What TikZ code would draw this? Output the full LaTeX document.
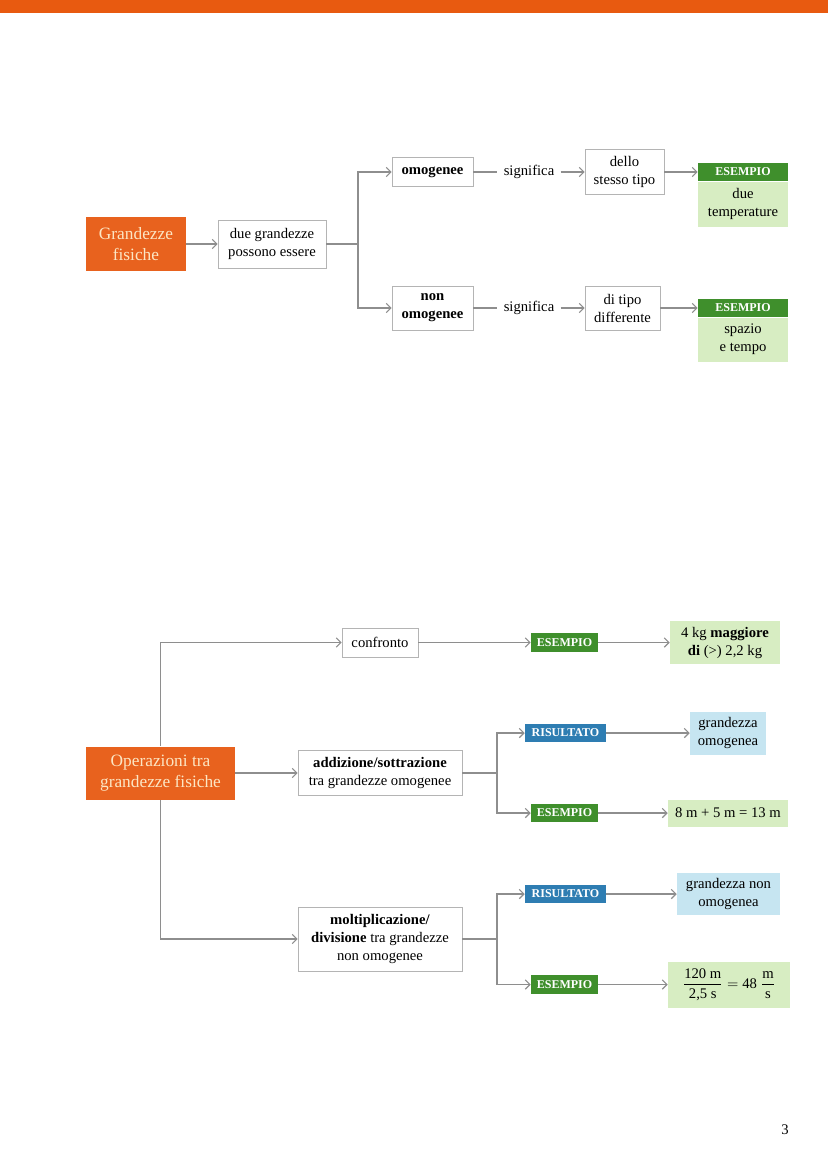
\documentclass[tikz,border=0pt]{standalone}
\usepackage{amsmath}
\usepackage{fontspec}
\setmainfont{Liberation Serif}
\usetikzlibrary{arrows.meta}
\newcommand{\pxl}[1]{#1*0.75pt}
\definecolor{orangebar}{HTML}{E85A10}
\definecolor{orangebox}{HTML}{E8621E}
\definecolor{cream}{HTML}{FCE6C4}
\definecolor{dgreen}{HTML}{3F8F2C}
\definecolor{lgreen}{HTML}{D7EDC2}
\definecolor{dblue}{HTML}{2E7DB2}
\definecolor{lblue}{HTML}{C6E5F1}
\definecolor{conn}{HTML}{8E8E8E}
\definecolor{bord}{HTML}{B4B4B4}
\tikzset{
  base/.style={align=center, inner sep=0pt, font=\fontsize{11}{13.5}\selectfont},
  wbox/.style={base, draw=bord, line width=0.6pt, fill=white},
  obox/.style={base, fill=orangebox, text=cream, font=\fontsize{13}{15.5}\selectfont},
  ghead/.style={base, fill=dgreen, text=white, font=\bfseries\fontsize{9}{10}\selectfont},
  bhead/.style={base, fill=dblue, text=white, font=\bfseries\fontsize{9}{10}\selectfont},
  gbody/.style={base, fill=lgreen},
  bbody/.style={base, fill=lblue},
  conntext/.style={base, inner xsep=\pxl{6}},
  cline/.style={draw=conn, line width=0.8pt},
  arr/.style={cline, -{Straight Barb[length=3.5pt,width=7pt]}},
}
\begin{document}
\begin{tikzpicture}[x=0.75pt,y=-0.75pt]
\useasboundingbox (0,0) rectangle (828,1173);
\fill[orangebar] (0,0) rectangle (828,13);

% ---------- diagram 1 ----------
\node[obox, minimum width=\pxl{100}, minimum height=\pxl{53}] (gf) at (136,244) {Grandezze\\fisiche};
\node[wbox, minimum width=\pxl{108}, minimum height=\pxl{48}] (due) at (272,244) {due grandezze\\possono essere};
\node[wbox, minimum width=\pxl{81}, minimum height=\pxl{29}] (omo) at (432.5,172) {\bfseries omogenee};
\node[wbox, minimum width=\pxl{81}, minimum height=\pxl{44}] (non) at (432.5,308) {\bfseries non\\\bfseries omogenee};
\node[conntext] (sig1) at (529,172) {significa};
\node[conntext] (sig2) at (529,308) {significa};
\node[wbox, minimum width=\pxl{79}, minimum height=\pxl{45}] (dello) at (624.5,172) {dello\\stesso tipo};
\node[wbox, minimum width=\pxl{75}, minimum height=\pxl{44}] (dit) at (622.5,308) {di tipo\\differente};
\node[ghead, minimum width=\pxl{90}, minimum height=\pxl{18}] (es1h) at (743,172) {ESEMPIO};
\node[gbody, minimum width=\pxl{90}, minimum height=\pxl{45}, anchor=north] (es1b) at (es1h.south) {due\\temperature};
\node[ghead, minimum width=\pxl{90}, minimum height=\pxl{18}] (es2h) at (743,308) {ESEMPIO};
\node[gbody, minimum width=\pxl{90}, minimum height=\pxl{44}, anchor=north] (es2b) at (es2h.south) {spazio\\e tempo};
\coordinate (j1) at (358,244);

\draw[arr] (gf.east) -- (due.west);
\draw[cline] (due.east) -- (j1);
\draw[arr] (j1) |- (omo.west);
\draw[arr] (j1) |- (non.west);
\draw[cline] (omo.east) -- (sig1.west);
\draw[arr] (sig1.east) -- (dello.west);
\draw[cline] (non.east) -- (sig2.west);
\draw[arr] (sig2.east) -- (dit.west);
\draw[arr] (dello.east) -- (es1h.west);
\draw[arr] (dit.east) -- (es2h.west);

% ---------- diagram 2 ----------
\node[obox, minimum width=\pxl{149}, minimum height=\pxl{53}] (op) at (160.5,773) {Operazioni tra\\grandezze fisiche};
\node[wbox, minimum width=\pxl{76}, minimum height=\pxl{29}] (conf) at (380,642.5) {confronto};
\node[ghead, minimum width=\pxl{67}, minimum height=\pxl{19}] (es3) at (564.5,642.5) {ESEMPIO};
\node[gbody, minimum width=\pxl{110}, minimum height=\pxl{43}] (kg) at (725,642.5) {4 kg \textbf{maggiore}\\\textbf{di} (>) 2,2 kg};
\node[wbox, minimum width=\pxl{164}, minimum height=\pxl{45}] (add) at (380,773) {\textbf{addizione/sottrazione}\\tra grandezze omogenee};
\node[bhead, minimum width=\pxl{81}, minimum height=\pxl{18}] (ris1) at (565.5,733) {RISULTATO};
\node[bbody, minimum width=\pxl{76}, minimum height=\pxl{43}] (gom) at (728,733) {grandezza\\omogenea};
\node[ghead, minimum width=\pxl{67}, minimum height=\pxl{18}] (es4) at (564.5,813) {ESEMPIO};
\node[gbody, minimum width=\pxl{120}, minimum height=\pxl{27}] (eq) at (728,813) {8 m + 5 m = 13 m};
\node[wbox, minimum width=\pxl{164}, minimum height=\pxl{64}] (mol) at (380,939) {\textbf{moltiplicazione/}\\\textbf{divisione} tra grandezze\\non omogenee};
\node[bhead, minimum width=\pxl{81}, minimum height=\pxl{18}] (ris2) at (565.5,894) {RISULTATO};
\node[bbody, minimum width=\pxl{103}, minimum height=\pxl{42}] (gnom) at (728.5,894) {grandezza non\\omogenea};
\node[ghead, minimum width=\pxl{67}, minimum height=\pxl{19}] (es5) at (564.5,984.5) {ESEMPIO};
\node[gbody, minimum width=\pxl{122}, minimum height=\pxl{46}] (frac) at (729,984.5) {$\dfrac{\text{120 m}}{\text{2,5 s}} = \text{48}\ \dfrac{\text{m}}{\text{s}}$};
\coordinate (j2) at (497,773);
\coordinate (j3) at (497,939);

\draw[arr] (op.north) |- (conf.west);
\draw[arr] (op.south) |- (mol.west);
\draw[arr] (op.east) -- (add.west);
\draw[arr] (conf.east) -- (es3.west);
\draw[arr] (es3.east) -- (kg.west);
\draw[cline] (add.east) -- (j2);
\draw[arr] (j2) |- (ris1.west);
\draw[arr] (j2) |- (es4.west);
\draw[arr] (ris1.east) -- (gom.west);
\draw[arr] (es4.east) -- (eq.west);
\draw[cline] (mol.east) -- (j3);
\draw[arr] (j3) |- (ris2.west);
\draw[arr] (j3) |- (es5.west);
\draw[arr] (ris2.east) -- (gnom.west);
\draw[arr] (es5.east) -- (frac.west);

\node[base] (pg) at (785,1130) {3};
\end{tikzpicture}
\end{document}
